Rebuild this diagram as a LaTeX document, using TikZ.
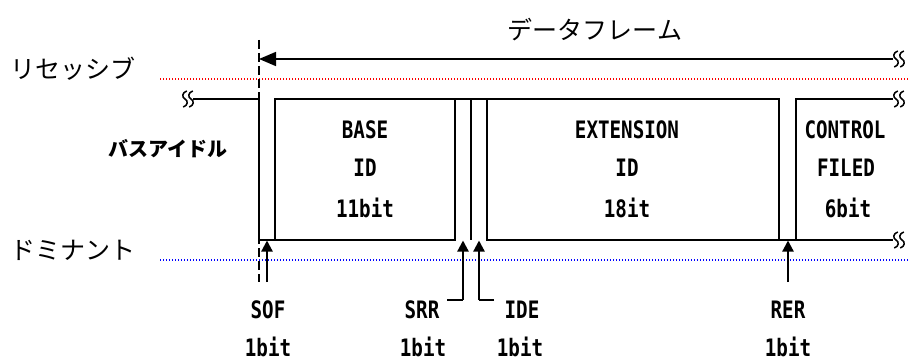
\documentclass[tikz,border=0pt]{standalone}
\usepackage{fontspec}
\usetikzlibrary{arrows.meta}
\newfontfamily\jpf{Noto Sans CJK JP}
\newfontfamily\latf[FakeStretch=0.8]{DejaVu Sans Mono}
\begin{document}
\begin{tikzpicture}[x=1pt,y=-1pt,
  sig/.style={line width=1.3pt, line join=miter},
  jpl/.style={font=\jpf\fontsize{25}{25}\selectfont, inner sep=0pt},
  jpb/.style={font=\jpf\bfseries\fontsize{20}{20}\selectfont, inner sep=0pt},
  lat/.style={font=\latf\bfseries\fontsize{24}{24}\selectfont, inner sep=0pt},
  uparrow/.style={line width=2.2pt, -{Triangle[length=11pt,width=11pt]}},
  bigarrow/.style={line width=1.8pt, -{Triangle[length=17pt,width=14pt]}},
  wavy/.pic={
    \draw[line width=1.5pt] (1.8,-8) .. controls (-3.2,-6.5) and (-3.2,-1.5) .. (0,0) .. controls (3.2,1.5) and (3.2,6.5) .. (-1.8,8);
    \draw[line width=1.5pt] (7.8,-8) .. controls (2.8,-6.5) and (2.8,-1.5) .. (6,0) .. controls (9.2,1.5) and (9.2,6.5) .. (4.2,8);
  }]
\useasboundingbox (0,0) rectangle (910,361);
\fill[white] (0,0) rectangle (910,361);

% level reference lines
\draw[red, line width=1.3pt, dash pattern=on 1.3pt off 1.7pt] (160,79) -- (910,79);
\draw[blue, line width=1.3pt, dash pattern=on 1.3pt off 1.7pt] (160,260) -- (910,260);

% start-of-frame marker
\coordinate (dtop) at (259,40);
\coordinate (dbot) at (259,282);
\draw[line width=1.6pt, dash pattern=on 9pt off 4pt] (dtop) -- (dbot);

% frame arrow
\coordinate (fr) at (893,59);
\coordinate (fl) at (259,59);
\draw[bigarrow] (fr) -- (fl);
\pic at (896,59) {wavy};

% signal
\draw[sig] (193,99) -- (259,99) -- (259,240) -- (455,240) -- (455,99);
\draw[sig] (275,240) -- (275,99) -- (779,99) -- (779,240);
\draw[sig] (471,99) -- (471,240);
\draw[sig] (487,99) -- (487,240) -- (893,240);
\draw[sig] (796,240) -- (796,99) -- (893,99);
\pic at (185,99) {wavy};
\pic at (896,99) {wavy};
\pic at (896,240) {wavy};

% labels
\node[jpl] (frame) at (595,30) {データフレーム};
\node[jpl, anchor=west] (rec) at (10,69) {リセッシブ};
\node[jpl, anchor=west] (dom) at (10,250) {ドミナント};
\node[jpb, anchor=west] (idle) at (108,149) {バスアイドル};

\node[lat] (b1) at (365,130) {BASE};
\node[lat] (b2) at (365,168) {ID};
\node[lat] (b3) at (365,208) {11bit};
\node[lat] (e1) at (627,130) {EXTENSION};
\node[lat] (e2) at (627,168) {ID};
\node[lat] (e3) at (627,208) {18it};
\node[lat] (c1) at (845,130) {CONTROL};
\node[lat] (c2) at (846,168) {FILED};
\node[lat] (c3) at (848,208) {6bit};

\node[lat] (sof) at (268,310) {SOF};
\node[lat] (sofb) at (268,347) {1bit};
\node[lat] (srr) at (422,310) {SRR};
\node[lat] (srrb) at (423,347) {1bit};
\node[lat] (ide) at (522,310) {IDE};
\node[lat] (ideb) at (520,347) {1bit};
\node[lat] (rer) at (788,310) {RER};
\node[lat] (rerb) at (788,347) {1bit};

% bit pointers
\coordinate (sofs) at (267,282);
\coordinate (soft) at (267,240.5);
\coordinate (srrs) at (447,300);
\coordinate (srrk) at (463,300);
\coordinate (srrt) at (463,240.5);
\coordinate (ides) at (494,300);
\coordinate (idek) at (479,300);
\coordinate (idet) at (479,240.5);
\coordinate (rers) at (788,282);
\coordinate (rert) at (788,240.5);
\draw[uparrow] (sofs) -- (soft);
\draw[line width=1.3pt] (srrs) -- (srrk);
\draw[uparrow] (srrk) -- (srrt);
\draw[line width=1.3pt] (ides) -- (idek);
\draw[uparrow] (idek) -- (idet);
\draw[uparrow] (rers) -- (rert);
\end{tikzpicture}
\end{document}
